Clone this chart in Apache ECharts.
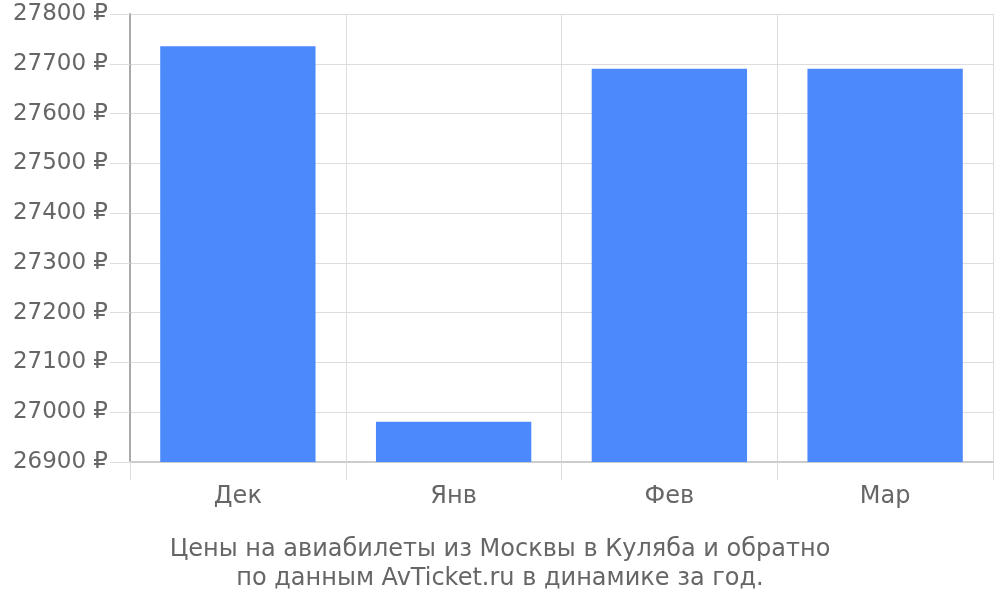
<!DOCTYPE html>
<html><head><meta charset="utf-8">
<script src="https://cdn.jsdelivr.net/npm/echarts@6/dist/echarts.min.js"></script>
<style>html,body{margin:0;padding:0;background:#fff}#c{width:1000px;height:600px}</style>
</head><body><div id="c"></div>
<script>
const categories = ['Дек', 'Янв', 'Фев', 'Мар'];
const prices = [27735, 26981, 27690, 27690];
const yMin = 26900, yMax = 27800, yStep = 100;
const titleLines = ['Цены на авиабилеты из Москвы в Куляба и обратно', 'по данным AvTicket.ru в динамике за год.'];

const FONT = '"DejaVu Sans", Verdana, sans-serif';
const chart = echarts.init(document.getElementById('c'));
chart.setOption({
  animation: false,
  textStyle: { fontFamily: FONT },
  title: {
    text: titleLines.join('\n'),
    left: 'center', top: 530,
    textStyle: { fontSize: 24, fontWeight: 'normal', color: '#666', lineHeight: 29, fontFamily: FONT }
  },
  grid: { left: 130, right: 7, top: 14, bottom: 138, containLabel: false },
  xAxis: {
    type: 'category', data: categories,
    axisLine: { lineStyle: { color: '#ccc', width: 2 } },
    axisTick: { show: true, length: 18, lineStyle: { color: '#ddd' } },
    splitLine: { show: true, lineStyle: { color: '#ddd' } },
    axisLabel: { fontSize: 24, color: '#666', margin: 23, fontFamily: FONT }
  },
  yAxis: {
    type: 'value', min: yMin, max: yMax, interval: yStep,
    axisLine: { show: true, lineStyle: { color: '#aaa', width: 2 } },
    axisTick: { show: true, length: 20, lineStyle: { color: '#ddd' } },
    splitLine: { lineStyle: { color: '#ddd' } },
    axisLabel: { fontSize: 23, color: '#666', margin: 22, formatter: v => v + ' ₽', fontFamily: FONT }
  },
  series: [{
    type: 'bar', data: prices, barWidth: '72%',
    itemStyle: { color: '#4c89fb' }
  }]
});
</script></body></html>
